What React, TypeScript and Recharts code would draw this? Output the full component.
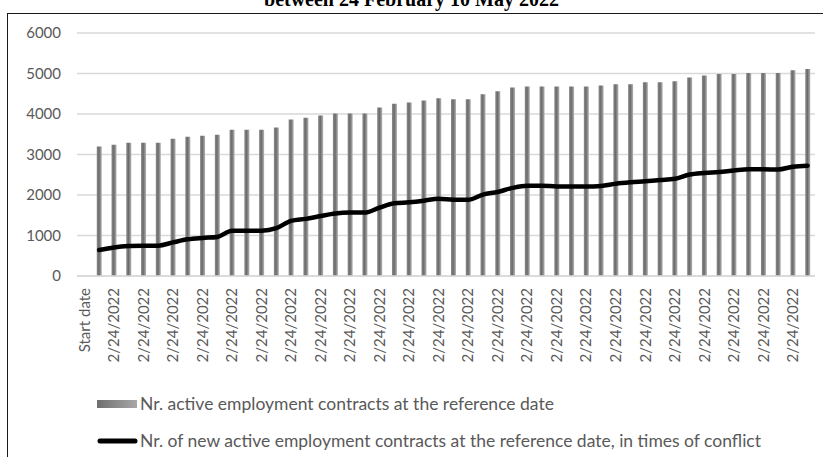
import { ComposedChart, Bar, Line, XAxis, YAxis, CartesianGrid, Legend } from 'recharts'

// first category is the reference start; the series begin on the next one
const dateLabels: string[] = ['Start date', ...Array(49).fill('2/24/2022')]

const activeContracts: (number | null)[] = [
  null,
  3200, 3240, 3290, 3290, 3290, 3390, 3440, 3465, 3485, 3610,
  3610, 3610, 3665, 3865, 3910, 3960, 4010, 4010, 4010, 4160,
  4255, 4285, 4335, 4390, 4365, 4365, 4485, 4560, 4655, 4680,
  4680, 4680, 4680, 4680, 4705, 4735, 4735, 4785, 4785, 4810,
  4900, 4950, 4985, 4985, 5010, 5010, 5010, 5080, 5110,
]

const newContracts: (number | null)[] = [
  null,
  640, 705, 740, 750, 750, 830, 905, 940, 965, 1120,
  1120, 1120, 1180, 1360, 1410, 1480, 1545, 1565, 1565, 1690,
  1795, 1820, 1860, 1910, 1885, 1880, 2010, 2075, 2175, 2230,
  2230, 2210, 2210, 2210, 2225, 2280, 2315, 2340, 2370, 2400,
  2505, 2545, 2570, 2605, 2635, 2635, 2630, 2700, 2725,
]

const yTicks = [0, 1000, 2000, 3000, 4000, 5000, 6000]

const ACTIVE_LABEL = 'Nr. active employment contracts at the reference date'
const NEW_LABEL = 'Nr. of new active employment contracts at the reference date, in times of conflict'

const data = dateLabels.map((date, i) => ({
  date,
  active: activeContracts[i],
  fresh: newContracts[i],
}))

const FONT = 'Lato, "Open Sans", sans-serif'
const TEXT = '#595959'

function DateTick({ x, y, payload }: any) {
  return (
    <text
      x={x}
      y={y}
      transform={`rotate(-90, ${x}, ${y})`}
      textAnchor="end"
      dy="0.35em"
      fontSize={15}
      fontFamily={FONT}
      fill={TEXT}
    >
      {payload.value}
    </text>
  )
}

function BarGradient({ id }: { id: string }) {
  return (
    <linearGradient id={id} x1="0" y1="0" x2="1" y2="0">
      <stop offset="0%" stopColor="#8c8c8c" />
      <stop offset="45%" stopColor="#6b6b6b" />
      <stop offset="100%" stopColor="#b4b4b4" />
    </linearGradient>
  )
}

function ChartLegend() {
  return (
    <div style={{ fontFamily: FONT, fontSize: 17.5, color: TEXT, height: 74 }}>
      <div style={{ display: 'flex', alignItems: 'center', height: 37 }}>
        <svg width={41} height={10}>
          <defs>
            <linearGradient id="legendFill" x1="0" y1="0" x2="1" y2="0">
              <stop offset="0%" stopColor="#6e6e6e" />
              <stop offset="100%" stopColor="#a8a8a8" />
            </linearGradient>
          </defs>
          <rect x={0} y={1} width={40} height={8} fill="url(#legendFill)" />
        </svg>
        <span style={{ marginLeft: 2 }}>{ACTIVE_LABEL}</span>
      </div>
      <div style={{ display: 'flex', alignItems: 'center', height: 37 }}>
        <svg width={41} height={10}>
          <line x1={3} y1={5} x2={38} y2={5} stroke="#000" strokeWidth={5} strokeLinecap="round" />
        </svg>
        <span style={{ marginLeft: 2 }}>{NEW_LABEL}</span>
      </div>
    </div>
  )
}

export default function App() {
  return (
    <div
      style={{
        position: 'fixed',
        left: 0,
        top: 0,
        width: 823,
        height: 457,
        overflow: 'hidden',
        background: '#fff',
      }}
    >
      <div
        style={{
          position: 'absolute',
          left: 0,
          top: -11,
          width: 823,
          textAlign: 'center',
          fontFamily: '"Liberation Serif", "Times New Roman", serif',
          fontWeight: 'bold',
          fontSize: 20,
          lineHeight: '20px',
          color: '#000',
        }}
      >
        between 24 February 10 May 2022
      </div>
      <div
        style={{
          position: 'absolute',
          left: 7,
          top: 13,
          width: 900,
          height: 600,
          border: '1.5px solid #1a1a1a',
        }}
      />
      <div style={{ position: 'absolute', left: 0, top: 0 }}>
        <ComposedChart
          width={823}
          height={457}
          data={data}
          margin={{ top: 33, right: 8, bottom: 12, left: 0 }}
          barCategoryGap={0}
        >
          <defs>
            <BarGradient id="barFill" />
          </defs>
          <CartesianGrid vertical={false} stroke="#d9d9d9" strokeWidth={1.3} />
          <XAxis
            dataKey="date"
            interval={1}
            height={95}
            tickSize={0}
            tickMargin={12}
            axisLine={{ stroke: '#d9d9d9', strokeWidth: 1.3 }}
            tickLine={false}
            tick={<DateTick />}
          />
          <YAxis
            width={77}
            domain={[0, 6000]}
            ticks={yTicks}
            tickSize={0}
            tickMargin={16}
            axisLine={false}
            tickLine={false}
            tick={{ fontSize: 15, fontFamily: FONT, fill: TEXT }}
          />
          <Legend
            layout="vertical"
            verticalAlign="bottom"
            align="center"
            wrapperStyle={{ left: 97, top: 385, width: 720 }}
            content={<ChartLegend />}
          />
          <Bar
            dataKey="active"
            name={ACTIVE_LABEL}
            fill="url(#barFill)"
            barSize={5}
            isAnimationActive={false}
          />
          <Line
            dataKey="fresh"
            name={NEW_LABEL}
            type="monotone"
            stroke="#000"
            strokeWidth={4.5}
            strokeLinejoin="round"
            strokeLinecap="round"
            dot={false}
            activeDot={false}
            isAnimationActive={false}
          />
        </ComposedChart>
      </div>
    </div>
  )
}
